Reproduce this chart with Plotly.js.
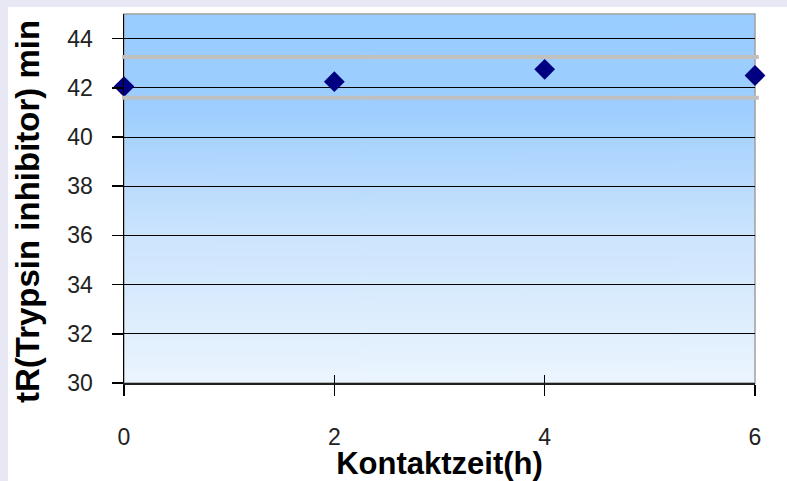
<!DOCTYPE html>
<html>
<head>
<meta charset="utf-8">
<script src="https://cdn.plot.ly/plotly-3.0.1.min.js"></script>
<style>
  html, body { margin:0; padding:0; width:787px; height:481px; background:#E8E8F4; overflow:hidden; }
  #chart { position:absolute; left:8px; top:7px; width:779px; height:474px; background:#FFFFFF; }
</style>
</head>
<body>
<div id="chart"></div>
<script>
// Data
const contactTime = [0, 2, 4, 6];
const retentionTime = [42.05, 42.25, 42.75, 42.5];
const limitLines = [43.25, 41.6];
const xTicks = [0, 2, 4, 6];
const yTicks = [30, 32, 34, 36, 38, 40, 42, 44];
const xTitle = 'Kontaktzeit(h)';
const yTitle = 'tR(Trypsin inhibitor) min';

// gradient background image
function gradientURL() {
  const c = document.createElement('canvas');
  c.width = 4; c.height = 400;
  const g = c.getContext('2d');
  const gr = g.createLinearGradient(0, 0, 0, 400);
  gr.addColorStop(0, '#99CCFF');
  gr.addColorStop(0.25, '#9DCEFF');
  gr.addColorStop(0.6, '#CCE4FD');
  gr.addColorStop(1, '#EBF5FE');
  g.fillStyle = gr;
  g.fillRect(0, 0, 4, 400);
  return c.toDataURL('image/png');
}

const font = 'Liberation Sans, Arial, sans-serif';

const traces = [
  {
    x: contactTime, y: retentionTime, type: 'scatter', mode: 'markers',
    marker: { symbol: 'diamond', size: 16, color: '#000080', line: { width: 0 } },
    cliponaxis: false, showlegend: false, hoverinfo: 'x+y'
  },
  { x: [], y: [], xaxis: 'x2', yaxis: 'y', type: 'scatter', showlegend: false }
];

const shapes = [
  { type: 'rect', xref: 'paper', yref: 'paper', x0: 0, x1: 1, y0: 0, y1: 1,
    line: { color: '#A0A0A0', width: 1.5 }, fillcolor: 'rgba(0,0,0,0)', layer: 'below' }
].concat(limitLines.map(v => ({
  type: 'line', xref: 'paper', yref: 'y', x0: -0.003, x1: 1.006, y0: v, y1: v,
  line: { color: '#C0C0C0', width: 4 }, layer: 'above'
})));

const layout = {
  width: 779, height: 474,
  margin: { l: 116, r: 32, t: 7, b: 98 },
  paper_bgcolor: '#FFFFFF',
  plot_bgcolor: 'rgba(0,0,0,0)',
  showlegend: false,
  images: [{ source: gradientURL(), xref: 'paper', yref: 'paper', x: 0, y: 1,
    sizex: 1, sizey: 1, sizing: 'stretch', layer: 'below', xanchor: 'left', yanchor: 'top' }],
  xaxis: {
    range: [0, 6], tickvals: xTicks, ticktext: xTicks.map(String),
    showgrid: false, zeroline: false,
    showline: true, linecolor: '#202020', linewidth: 1.5,
    ticks: 'outside', ticklen: 11, tickcolor: '#000000', tickwidth: 1.5,
    ticklabelstandoff: 22,
    tickfont: { family: font, size: 23, color: '#222222' },
    title: { text: xTitle, font: { family: font, size: 31, color: '#000000', weight: 'bold' }, standoff: 0 },
    automargin: false, fixedrange: true
  },
  xaxis2: {
    overlaying: 'x', matches: 'x', range: [0, 6], tickvals: xTicks,
    showticklabels: false, showgrid: false, zeroline: false, showline: false,
    ticks: 'inside', ticklen: 8, tickcolor: '#000000', tickwidth: 1.5, anchor: 'y'
  },
  yaxis: {
    range: [30, 45], tickvals: yTicks, ticktext: yTicks.map(String),
    showgrid: true, gridcolor: '#000000', gridwidth: 1, zeroline: false,
    showline: true, linecolor: '#000000', linewidth: 1.5,
    ticks: 'outside', ticklen: 11, tickcolor: '#000000', tickwidth: 1.5,
    ticklabelstandoff: 14,
    tickfont: { family: font, size: 23, color: '#222222' },
    automargin: false, fixedrange: true
  },
  annotations: [{
    text: yTitle, textangle: -90, showarrow: false,
    xref: 'paper', yref: 'paper', x: -0.1537, y: 0.4634,
    xanchor: 'center', yanchor: 'middle',
    font: { family: font, size: 33, color: '#000000', weight: 'bold' }
  }],
  shapes: shapes
};

Plotly.newPlot('chart', traces, layout, { displayModeBar: false, staticPlot: true });
</script>
</body>
</html>
